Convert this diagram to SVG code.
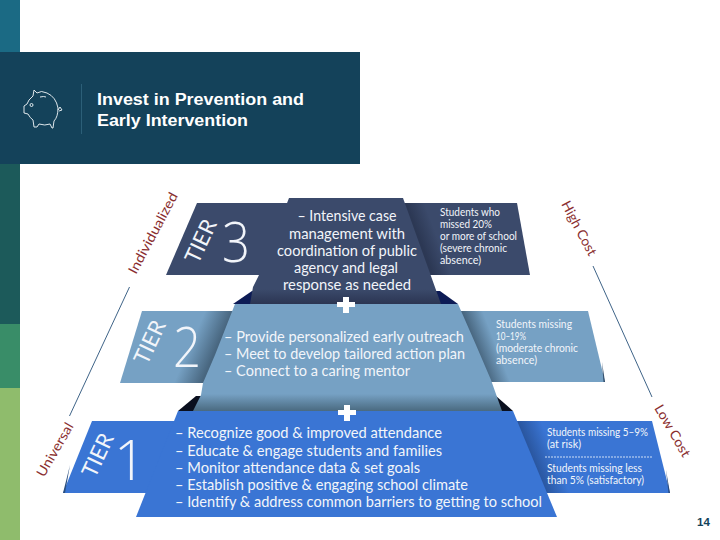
<svg xmlns="http://www.w3.org/2000/svg" width="720" height="540" viewBox="0 0 720 540">
<style>
.t{font-family:"Lato","Open Sans",sans-serif;fill:#f2f5fa}
.m{font-size:15.4px}
.s{font-size:10.6px}
.tier{font-size:22px}
.num{font-family:"Open Sans","Lato",sans-serif;font-size:56px;font-weight:300}
.r{font-family:"Lato","Open Sans",sans-serif;font-size:13.5px;fill:#8a2f30}
.plus{fill:#fff}
.ln{fill:none;stroke:#3f6488;stroke-width:1}
</style>
<defs>
<linearGradient id="s3" x1="0" y1="0" x2="0" y2="1"><stop offset="0.84" stop-color="#76a1c4"/><stop offset="1" stop-color="#4a6a80"/></linearGradient>
<linearGradient id="d3" x1="0" y1="0" x2="0" y2="1"><stop offset="0.86" stop-color="#3b4a6b"/><stop offset="1" stop-color="#2b3552"/></linearGradient>
<linearGradient id="dr" gradientUnits="userSpaceOnUse" x1="420" y1="240" x2="436" y2="234"><stop offset="0" stop-color="#2c3854"/><stop offset="1" stop-color="#3b4a6b"/></linearGradient>
<linearGradient id="sl" gradientUnits="userSpaceOnUse" x1="194" y1="337" x2="217" y2="347"><stop offset="0" stop-color="#76a1c4"/><stop offset="1" stop-color="#48667f"/></linearGradient>
<linearGradient id="sr" gradientUnits="userSpaceOnUse" x1="476" y1="347" x2="494" y2="340"><stop offset="0" stop-color="#48667f"/><stop offset="1" stop-color="#76a1c4"/></linearGradient>
<linearGradient id="br" gradientUnits="userSpaceOnUse" x1="532" y1="457" x2="552" y2="449"><stop offset="0" stop-color="#2a569f"/><stop offset="1" stop-color="#3a75d4"/></linearGradient>
</defs>
<rect width="720" height="540" fill="#fff"/>
<g id="side-strip">
<rect x="0" y="0" width="20" height="52" fill="#1b6a84"/>
<rect x="0" y="164" width="20" height="160" fill="#1c5a5a"/>
<rect x="0" y="324" width="20" height="64" fill="#398d68"/>
<rect x="0" y="388" width="20" height="152" fill="#8fbc6c"/>
</g>
<g id="header">
<rect x="0" y="52" width="360" height="112" fill="#14425a"/>
<line x1="81.500" y1="84" x2="81.500" y2="134" stroke="#2c5f78" stroke-width="1"/>
<path d="M34 90 L33 96 Q28 100 27 104 L24 106 L24 113 L28 114 Q30 118 33 120 L34 127 L37 127 L39 124 Q45 126 50 124 L52 128 L53 128 L54 121 Q58 117 58 108 Q56 97 47 93 Q41 90 37 93 Z M40 97 Q44 96 46 97 M30 105 a1.500 1.500 0 1 0 3 0 a1.500 1.500 0 1 0 -3 0 M58 110 L60 107 L62 110 L59 111" fill="none" stroke="#f4f8fa" stroke-width="0.9"/>
<text x="97" y="105" font-family="'Liberation Sans',Arial,sans-serif" font-size="16" font-weight="700" fill="#fff" textLength="207" lengthAdjust="spacingAndGlyphs">Invest in Prevention and</text>
<text x="97" y="126" font-family="'Liberation Sans',Arial,sans-serif" font-size="16" font-weight="700" fill="#fff" textLength="151" lengthAdjust="spacingAndGlyphs">Early Intervention</text>
</g>
<g id="connectors">
<line class="ln" x1="129.500" y1="287" x2="69.500" y2="416"/>
<line class="ln" x1="593" y1="266" x2="652" y2="397"/>
</g>
<g id="axis-labels">
<text class="r" transform="translate(136,275) rotate(-62)" textLength="90" lengthAdjust="spacingAndGlyphs">Individualized</text>
<text class="r" transform="translate(44,478) rotate(-60)" textLength="60" lengthAdjust="spacingAndGlyphs">Universal</text>
<text class="r" transform="translate(561,204) rotate(62)" textLength="60" lengthAdjust="spacingAndGlyphs">High Cost</text>
<text class="r" transform="translate(654,408) rotate(60)" textLength="58" lengthAdjust="spacingAndGlyphs">Low Cost</text>
</g>
<g id="tier-3">
<path d="M197 203 L300 203 L300 275 L166 275 Z" fill="#3b4a6b"/>
<path d="M400 203 L517 203 L530 275 L420 275 Z" fill="url(#dr)"/>
<path d="M233 304 L252 291 L440 291 L458 304 Z" fill="#0d1b55"/>
<path d="M289 198 L403 198 L441 304 L250 304 L253 287 L259 275 Z" fill="url(#d3)"/>
<text class="t tier" transform="translate(198,265) rotate(-65)">TIER</text>
<text class="t num" x="222" y="262" textLength="28" lengthAdjust="spacingAndGlyphs">3</text>
<g class="t m" text-anchor="middle">
<text x="347" y="221" textLength="99" lengthAdjust="spacingAndGlyphs">– Intensive case</text>
<text x="347" y="238.500" textLength="116" lengthAdjust="spacingAndGlyphs">management with</text>
<text x="347" y="256" textLength="140" lengthAdjust="spacingAndGlyphs">coordination of public</text>
<text x="346" y="273" textLength="104" lengthAdjust="spacingAndGlyphs">agency and legal</text>
<text x="347" y="290" textLength="128" lengthAdjust="spacingAndGlyphs">response as needed</text>
</g>
<g class="t s">
<text x="440" y="216" textLength="60" lengthAdjust="spacingAndGlyphs">Students who</text>
<text x="440" y="228" textLength="52" lengthAdjust="spacingAndGlyphs">missed 20%</text>
<text x="440" y="240" textLength="77" lengthAdjust="spacingAndGlyphs">or more of school</text>
<text x="440" y="252" textLength="67" lengthAdjust="spacingAndGlyphs">(severe chronic</text>
<text x="440" y="264" textLength="41" lengthAdjust="spacingAndGlyphs">absence)</text>
</g>
</g>
<g id="tier-2">
<path d="M142 311 L240 311 L210 383 L120 383 Z" fill="url(#sl)"/>
<path d="M455 311 L588 311 L605 382 L485 382 Z" fill="url(#sr)"/>
<path d="M602 362 L605 382 L603.500 382 Z" fill="#2f4a68"/>
<path d="M178 411 L196 396 L496 396 L513 411 Z" fill="#0a0f1e"/>
<path d="M235 304 L458 304 L476 345 L491 380 L502 411 L193 411 L201 395 L203 383 L215 355 Z" fill="url(#s3)"/>
<text class="t tier" transform="translate(147,366) rotate(-65)">TIER</text>
<text class="t num" x="173" y="367" textLength="28" lengthAdjust="spacingAndGlyphs">2</text>
<g class="t m">
<text x="224" y="342" textLength="240" lengthAdjust="spacingAndGlyphs">– Provide personalized early outreach</text>
<text x="224" y="359" textLength="241" lengthAdjust="spacingAndGlyphs">– Meet to develop tailored action plan</text>
<text x="224" y="376" textLength="186" lengthAdjust="spacingAndGlyphs">– Connect to a caring mentor</text>
</g>
<g class="t s">
<text x="496" y="328" textLength="76" lengthAdjust="spacingAndGlyphs">Students missing</text>
<text x="496" y="340" textLength="30" lengthAdjust="spacingAndGlyphs">10–19%</text>
<text x="496" y="352" textLength="82" lengthAdjust="spacingAndGlyphs">(moderate chronic</text>
<text x="496" y="364" textLength="41" lengthAdjust="spacingAndGlyphs">absence)</text>
</g>
</g>
<g id="tier-1">
<path d="M92 421 L190 421 L170 493 L63 493 Z" fill="#3a75d4"/>
<path d="M70 465 L63 493 L65 493 Z" fill="#2a4f80"/>
<path d="M510 421 L652 421 L670 493 L540 493 Z" fill="url(#br)"/>
<path d="M666 470 L670 493 L668.500 493 Z" fill="#274a80"/>
<path d="M178 411 L513 411 L557 517 L136 517 Z" fill="#3a75d4"/>
<text class="t tier" transform="translate(95,479) rotate(-65)">TIER</text>
<text class="t num" x="114" y="480">1</text>
<g class="t m">
<text x="175" y="438" textLength="267" lengthAdjust="spacingAndGlyphs">– Recognize good &amp; improved attendance</text>
<text x="175" y="456" textLength="267" lengthAdjust="spacingAndGlyphs">– Educate &amp; engage students and families</text>
<text x="175" y="473" textLength="245" lengthAdjust="spacingAndGlyphs">– Monitor attendance data &amp; set goals</text>
<text x="175" y="490" textLength="293" lengthAdjust="spacingAndGlyphs">– Establish positive &amp; engaging school climate</text>
<text x="175" y="507" textLength="367" lengthAdjust="spacingAndGlyphs">– Identify &amp; address common barriers to getting to school</text>
</g>
<g class="t s">
<text x="547" y="436" textLength="101" lengthAdjust="spacingAndGlyphs">Students missing 5–9%</text>
<text x="547" y="448" textLength="34" lengthAdjust="spacingAndGlyphs">(at risk)</text>
<text x="547" y="472" textLength="95" lengthAdjust="spacingAndGlyphs">Students missing less</text>
<text x="547" y="484" textLength="97" lengthAdjust="spacingAndGlyphs">than 5% (satisfactory)</text>
</g>
<line x1="545" y1="457" x2="652" y2="457" stroke="#cfe0f6" stroke-width="1" stroke-dasharray="2 1"/>
</g>
<g id="plus-signs">
<path class="plus" d="M343 297 h6 v5 h6 v5 h-6 v6 h-6 v-6 h-6 v-5 h6 z"/>
<path class="plus" d="M344 405 h6 v5 h6 v5 h-6 v6 h-6 v-6 h-6 v-5 h6 z"/>
</g>
<text id="page-number" x="703.500" y="526" text-anchor="middle" font-family="'Liberation Sans',Arial,sans-serif" font-size="11.500" font-weight="700" fill="#14425a">14</text>
</svg>
